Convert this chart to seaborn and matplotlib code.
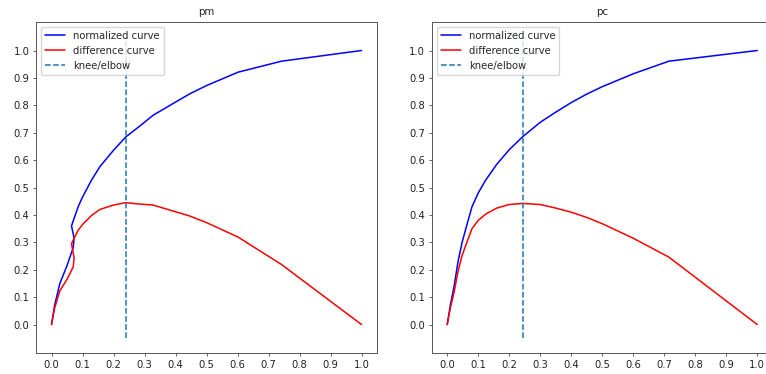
import numpy as np
import seaborn as sns
import matplotlib.pyplot as plt

# values (normalized x / y, difference = y - x)
pm_x = [0, 0.01, 0.027, 0.05, 0.07, 0.073, 0.0645, 0.086, 0.1, 0.129, 0.156,
        0.2, 0.24, 0.28, 0.328, 0.39, 0.446, 0.5, 0.602, 0.742, 1.0]
pm_norm = [0, 0.07, 0.15, 0.215, 0.28, 0.315, 0.36, 0.43, 0.465, 0.527, 0.576,
           0.636, 0.685, 0.72, 0.764, 0.805, 0.842, 0.872, 0.921, 0.961, 1.0]
pm_diff = [0, 0.06, 0.123, 0.165, 0.21, 0.242, 0.2955, 0.344, 0.365, 0.398, 0.42,
           0.436, 0.445, 0.44, 0.436, 0.415, 0.396, 0.372, 0.319, 0.219, 0.0]
pm_knee = 0.24

pc_x = [0, 0.01, 0.022, 0.035, 0.048, 0.065, 0.08, 0.1, 0.124, 0.16, 0.2,
        0.243, 0.3, 0.35, 0.4, 0.452, 0.5, 0.6, 0.715, 1.0]
pc_norm = [0, 0.07, 0.139, 0.23, 0.3, 0.37, 0.43, 0.48, 0.527, 0.585, 0.638,
           0.685, 0.738, 0.775, 0.81, 0.842, 0.868, 0.915, 0.961, 1.0]
pc_diff = [0, 0.06, 0.117, 0.195, 0.252, 0.305, 0.35, 0.38, 0.403, 0.425, 0.438,
           0.442, 0.438, 0.425, 0.41, 0.39, 0.368, 0.315, 0.246, 0.0]
pc_knee = 0.245

titles = ["pm", "pc"]

sns.set_style("ticks")
plt.rcParams.update({
    "font.family": ["DejaVu Sans"],
    "font.size": 7.2,
    "axes.titlesize": 7.4,
    "axes.titlepad": 4.5,
    "axes.edgecolor": "#555555",
    "axes.linewidth": 0.7,
    "xtick.major.size": 2.4,
    "ytick.major.size": 2.4,
    "xtick.major.width": 0.5,
    "ytick.major.width": 0.5,
    "xtick.major.pad": 2.4,
    "ytick.major.pad": 2.4,
    "xtick.color": "#222222",
    "ytick.color": "#222222",
    "lines.linewidth": 1.1,
})

fig = plt.figure(figsize=(7.66, 3.74), dpi=100)
ax1 = fig.add_axes([0.047, 0.0553, 0.4452, 0.8866])
ax2 = fig.add_axes([0.5636, 0.0553, 0.4452, 0.8866])

panels = [(ax1, pm_x, pm_norm, pm_diff, pm_knee),
          (ax2, pc_x, pc_norm, pc_diff, pc_knee)]

for (ax, x, norm, diff, knee), title in zip(panels, titles):
    sns.lineplot(x=x, y=norm, sort=False, estimator=None, color="b",
                 label="normalized curve", ax=ax)
    sns.lineplot(x=x, y=diff, sort=False, estimator=None, color="r",
                 label="difference curve", ax=ax)
    ylo, yhi = ax.get_ylim()
    ax.vlines(knee, ylo, yhi, linestyles="--", colors="#1f77b4",
              linewidth=1.1, label="knee/elbow")
    ax.set_xticks(np.arange(0, 1.1, 0.1))
    ax.set_yticks(np.arange(0, 1.1, 0.1))
    ax.set_title(title)
    ax.legend(loc="upper left")

fig.savefig("out.png", dpi=100)
